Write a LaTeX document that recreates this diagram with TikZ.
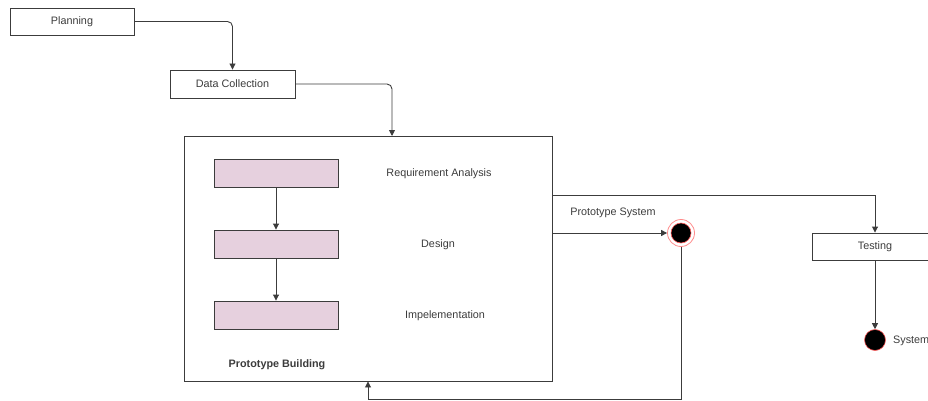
\documentclass[tikz,border=0pt]{standalone}
\usepackage{fontspec}
\setmainfont{Liberation Sans}
\usetikzlibrary{arrows.meta}
\definecolor{ln}{HTML}{3C3C3C}
\definecolor{pk}{HTML}{E6D0DE}
\definecolor{rd}{HTML}{FF5A5A}
\begin{document}
\begin{tikzpicture}[x=1pt,y=-1pt,
  font=\fontsize{10.8}{13}\selectfont,
  box/.style={draw=ln, line width=0.9pt, fill=white, inner sep=0pt, text=ln},
  pinkbox/.style={draw=ln, fill=pk, line width=0.9pt, minimum width=124pt, minimum height=28pt, inner sep=0pt},
  conn/.style={draw=ln, line width=0.9pt, -{Triangle[length=6pt,width=6pt]}},
  lbl/.style={text=ln, inner sep=0pt}]
\useasboundingbox (0,0) rectangle (928,401);
\clip (0,0) rectangle (928,401);
% top chain
\node[box, minimum width=124pt, minimum height=27pt] (plan) at (72,21.5) {Planning};
\node[box, minimum width=125pt, minimum height=28pt] (dc) at (232.5,84) {Data Collection};
\draw[conn, rounded corners=5pt] (plan.east) -| (dc.north);
% big box
\node[box, minimum width=368pt, minimum height=245pt] (proto) at (368,258.5) {};
\coordinate (pin) at (392,136);
\draw[conn, rounded corners=5pt] (dc.east) -| (pin);
% inner steps
\node[pinkbox] (r1) at (276,173) {};
\node[pinkbox] (r2) at (276,244) {};
\node[pinkbox] (r3) at (276,315) {};
\draw[conn] (r1.south) -- (r2.north);
\draw[conn] (r2.south) -- (r3.north);
\node[lbl] (l1) at (439,173.5) {Requirement Analysis};
\node[lbl] (l2) at (438,244.5) {Design};
\node[lbl] (l3) at (445,315.5) {Impelementation};
\node[lbl, font=\fontsize{10.8}{13}\selectfont\bfseries] (l4) at (277,364.5) {Prototype Building};
% prototype system end state
\node[circle, draw=rd!70, line width=0.8pt, minimum size=27pt, inner sep=0pt] (endA) at (681,233) {};
\node[circle, fill=black, draw=rd, line width=0.6pt, minimum size=20pt, inner sep=0pt] (endAi) at (endA) {};
\node[lbl] (ps) at (613,212.5) {Prototype System};
\draw[conn] (proto.east |- endA) -- (endA.west);
\coordinate (bl) at (368,399);
\draw[conn] (endA.south) |- (bl) -- (proto.south);
% testing
\node[box, minimum width=126pt, minimum height=27pt] (test) at (875,246.5) {Testing};
\coordinate (tout) at (552,195);
\draw[conn] (tout) -| (test.north);
\node[circle, fill=black, draw=rd, line width=0.6pt, minimum size=21pt, inner sep=0pt] (fin) at (875,340) {};
\draw[conn] (test.south) -- (fin.north);
\node[lbl, anchor=west] (sys) at (893,340.5) {System};
\end{tikzpicture}
\end{document}
